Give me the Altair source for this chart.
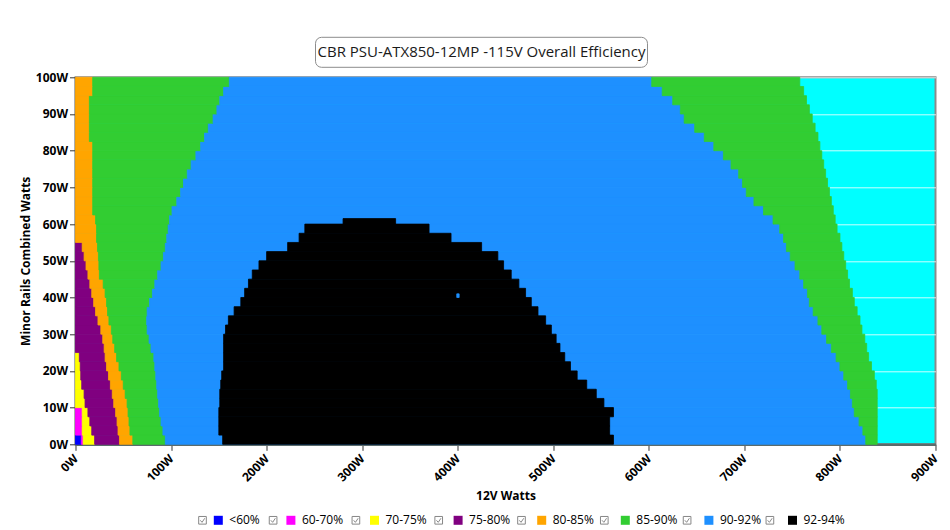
import altair as alt
import pandas as pd

# ---------------- data ----------------
legend_labels = ["<60%", "60-70%", "70-75%", "75-80%", "80-85%", "85-90%", "90-92%", "92-94%"]
legend_colors = ["#0000FF", "#FF00FF", "#FFFF00", "#800080", "#FFA500", "#32CD32", "#1E90FF", "#000000"]

x_ticks = [0, 100, 200, 300, 400, 500, 600, 700, 800, 900]
y_ticks = [0, 10, 20, 30, 40, 50, 60, 70, 80, 90, 100]

# minor-rail load bands (W), each 2.5 W tall
band_lo = [0, 2.5, 5, 7.5, 10, 12.5, 15, 17.5, 20, 22.5,
           25, 27.5, 30, 32.5, 35, 37.5, 40, 42.5, 45, 47.5,
           50, 52.5, 55, 57.5, 60, 62.5, 65, 67.5, 70, 72.5,
           75, 77.5, 80, 82.5, 85, 87.5, 90, 92.5, 95, 97.5]
band_h = 2.5

# right edge (12V watts) of each zone in each band, left to right
end_lt60 = [6, 0, 0, 0, 0, 0, 0, 0, 0, 0,
            0, 0, 0, 0, 0, 0, 0, 0, 0, 0,
            0, 0, 0, 0, 0, 0, 0, 0, 0, 0,
            0, 0, 0, 0, 0, 0, 0, 0, 0, 0]
end_60_70 = [8, 7, 7, 7, 0, 0, 0, 0, 0, 0,
             0, 0, 0, 0, 0, 0, 0, 0, 0, 0,
             0, 0, 0, 0, 0, 0, 0, 0, 0, 0,
             0, 0, 0, 0, 0, 0, 0, 0, 0, 0]
end_70_75 = [20, 17, 15, 13, 10, 9, 6.5, 5.5, 5, 4,
             0, 0, 0, 0, 0, 0, 0, 0, 0, 0,
             0, 0, 0, 0, 0, 0, 0, 0, 0, 0,
             0, 0, 0, 0, 0, 0, 0, 0, 0, 0]
end_75_80 = [46, 44.5, 43.5, 42, 40, 38.5, 36.5, 34.5, 32.5, 31,
             30, 28.5, 26.5, 23.5, 21, 19, 17, 15, 13, 11,
             9, 7, 0, 0, 0, 0, 0, 0, 0, 0,
             0, 0, 0, 0, 0, 0, 0, 0, 0, 0]
end_80_85 = [60, 57, 56, 55, 54, 52, 50, 48, 45.5, 43,
             41, 39, 37.5, 35, 33.5, 32.5, 31, 29, 25, 24.5,
             24, 23, 22, 22, 21, 18, 18, 18, 18, 18,
             18, 18, 18, 14.5, 14.5, 14.5, 14.5, 14.5, 18, 18]
end_85_90 = [94, 91.5, 89.5, 88, 87, 86, 85, 84, 83, 82,
             79, 77, 75, 74.5, 75, 77.5, 80.5, 83, 86, 89.5,
             92, 94, 95.5, 97, 98.5, 101, 106, 110, 113, 117,
             121, 126, 131, 135, 139, 144, 148, 151, 155, 161]
end_90_92 = [827, 824, 820, 815, 813, 811, 808, 804, 800, 796,
             791, 786, 781, 777, 772, 768, 766, 762, 758, 753,
             748, 744, 741, 737, 730, 720, 710, 702, 698, 694,
             686, 678, 668, 658, 648, 637, 633, 625, 614, 603]
end_85_90_hi = [839, 839, 839, 839, 839, 839, 838, 836, 833, 830,
                828, 826, 823, 821, 818, 815, 813, 810, 808, 806,
                804, 802, 800, 797, 795, 793, 791, 789, 787, 785,
                783, 781, 779, 777, 774, 771, 768, 765, 762, 758]

# 92-94% island (bands 0..24)
black_start = [154, 150, 150, 150, 151, 151, 152, 153, 155, 155,
               155, 155, 157, 160, 166, 173, 177, 181, 185, 192,
               200, 222, 234, 240, 280]
black_end = [563, 559, 559, 563, 553, 545, 535, 525, 518, 512,
             507, 503, 498, 492, 484, 477, 471, 464, 456, 448,
             442, 425, 393, 370, 335]
black_top = 61.5

# tiny 90-92% hole inside the island
hole_x = [399, 401.5]
hole_y = [40, 41]

# ---------------- table ----------------
zone_seq = ["<60%", "60-70%", "70-75%", "75-80%", "80-85%", "85-90%", "90-92%", "85-90%"]
edge_seq = [end_lt60, end_60_70, end_70_75, end_75_80, end_80_85, end_85_90, end_90_92, end_85_90_hi]

rows = []
for i, y0 in enumerate(band_lo):
    left = 0
    for name, edges in zip(zone_seq, edge_seq):
        right = edges[i]
        if right > left:
            rows.append(dict(zone=name, x=left, x2=right, y=y0, y2=y0 + band_h))
            left = right
for i, (xs, xe) in enumerate(zip(black_start, black_end)):
    y0 = band_lo[i]
    rows.append(dict(zone="92-94%", x=xs, x2=xe, y=y0, y2=min(y0 + band_h, black_top)))
rows.append(dict(zone="90-92%", x=hole_x[0], x2=hole_x[1], y=hole_y[0], y2=hole_y[1]))
df = pd.DataFrame(rows)

FONT = "Open Sans"
color_scale = alt.Scale(domain=legend_labels, range=legend_colors)

x_axis = alt.Axis(values=x_ticks, labelExpr="datum.value + 'W'", title="12V Watts",
                  labelAngle=315, labelAlign="right", labelBaseline="middle",
                  grid=False, titlePadding=7, labelPadding=6)
y_axis = alt.Axis(values=y_ticks, labelExpr="datum.value + 'W'",
                  title="Minor Rails Combined Watts", grid=True, titlePadding=3)
x_enc = alt.X("x:Q", scale=alt.Scale(domain=[0, 900], nice=False, zero=False), axis=x_axis)
y_enc = alt.Y("y:Q", scale=alt.Scale(domain=[0, 100], nice=False), axis=y_axis)

LEG_X = 136.8   # left edge of the first colour square, plot coordinates
LEG_Y = 437.0
common_leg = dict(title=None, orient="none", direction="horizontal",
                  symbolSize=81, labelFontSize=12, labelFont=FONT,
                  padding=0, rowPadding=0, legendY=LEG_Y)

rects = alt.Chart(df).mark_rect(strokeWidth=0.8).encode(
    x=x_enc, x2="x2:Q", y=y_enc, y2="y2:Q",
    color=alt.Color("zone:N", scale=color_scale,
                    legend=alt.Legend(symbolType="square", symbolStrokeWidth=0, columns=8,
                                      columnPadding=24.6, labelOffset=5,
                                      legendX=LEG_X, labelColor="black", **common_leg)),
    stroke=alt.Stroke("zone:N", scale=color_scale, legend=None),
)

# check-box glyphs in front of the legend entries
checkbox_path = "M-0.85,-0.85L0.85,-0.85L0.85,0.85L-0.85,0.85Z M-0.5,0L-0.1,0.45L0.5,-0.45"
checkbox_first = [legend_labels[0] + " box"]
checkbox_rest = [lab + " box" for lab in legend_labels[1:]]


def checkbox_layer(domain, legend_x):
    return alt.Chart(df).transform_filter("false").mark_point(
        filled=False, color="#555555", strokeWidth=1).encode(
        x=x_enc, y=y_enc,
        shape=alt.Shape("cb:N", scale=alt.Scale(domain=domain, range=[checkbox_path] * len(domain)),
                        legend=alt.Legend(legendX=legend_x, labelExpr="''", labelOffset=0,
                                          columns=len(domain), columnPadding=70.8,
                                          symbolStrokeColor="#555555", symbolFillColor="white",
                                          symbolStrokeWidth=1, **common_leg)),
    )


cb1 = checkbox_layer(checkbox_first, 121.0)
cb2 = checkbox_layer(checkbox_rest, 191.6)

one = alt.Data(values=[{"a": 1}])
title_box = alt.Chart(one).mark_rect(cornerRadius=6, fill="white", stroke="#8c8c8c",
                                     strokeWidth=1).encode(
    x=alt.value(240), x2=alt.value(572), y=alt.value(-40), y2=alt.value(-10))
title_text = alt.Chart(one).mark_text(text="CBR PSU-ATX850-12MP -115V Overall Efficiency",
                                      fontSize=15, font=FONT, color="#1a1a1a",
                                      align="center", baseline="middle").encode(
    x=alt.value(406), y=alt.value(-25))

chart = alt.layer(rects, cb1, cb2, title_box, title_text).resolve_scale(
    shape="independent"
).properties(
    width=860, height=367,
    padding={"left": 67.5, "top": 69.3, "right": 6, "bottom": 86},
    autosize=alt.AutoSizeParams(type="none"),
).configure_view(
    fill="#00FFFF", stroke="#8a8a8a", strokeWidth=2
).configure_axis(
    labelFont=FONT, labelFontSize=12, labelFontWeight="bold", labelColor="black",
    titleFont=FONT, titleFontSize=12, titleFontWeight="bold", titleColor="black",
    domainColor="#5b6b6b", domainWidth=2.5, tickColor="#333333", tickSize=6,
    gridColor="white", gridOpacity=0.8, gridWidth=1,
)

chart.save("out.html", embed_options={"renderer": "svg", "actions": False})
